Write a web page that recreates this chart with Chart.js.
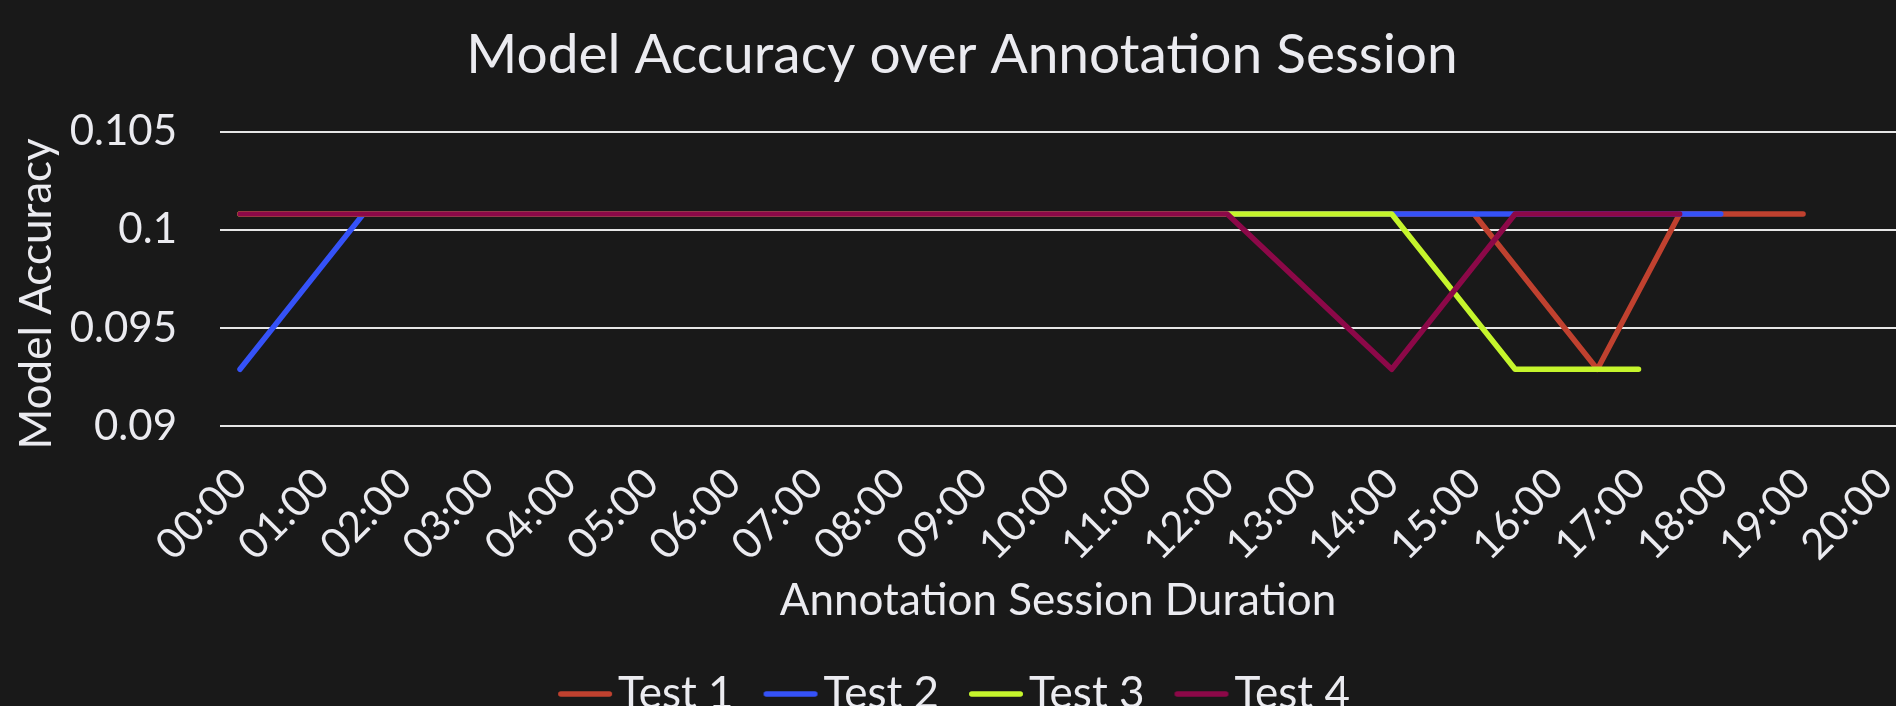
<!DOCTYPE html>
<html><head><meta charset="utf-8">
<script src="https://cdn.jsdelivr.net/npm/chart.js@4.4.0/dist/chart.umd.min.js"></script>
<style>
html,body{margin:0;padding:0;background:#191919;overflow:hidden;width:1896px;height:706px}
#wrap{position:relative;width:1896px;height:726px}
</style></head><body><div id="wrap"><canvas id="c" width="1896" height="726"></canvas></div>
<script>
// ---- data ----
const seriesNames = ['Test 1', 'Test 2', 'Test 3', 'Test 4'];
const seriesColors = ['#c0412f', '#3552f8', '#c5f52c', '#8c0848'];
// times in hours since session start
const test1Times  = [0, 15, 16.5, 17.5, 19];
const test1Values = [0.1008, 0.1008, 0.0929, 0.1008, 0.1008];
const test2Times  = [0, 1.5, 18];
const test2Values = [0.0929, 0.1008, 0.1008];
const test3Times  = [0, 14, 15.5, 17];
const test3Values = [0.1008, 0.1008, 0.0929, 0.0929];
const test4Times  = [0, 12, 14, 15.5, 17.5];
const test4Values = [0.1008, 0.1008, 0.0929, 0.1008, 0.1008];
const hourLabels = ['00:00','01:00','02:00','03:00','04:00','05:00','06:00','07:00','08:00','09:00','10:00',
                    '11:00','12:00','13:00','14:00','15:00','16:00','17:00','18:00','19:00','20:00'];
const yTickValues = [0.09, 0.095, 0.1, 0.105];
const yTickLabels = ['0.09', '0.095', '0.1', '0.105'];
const chartTitle = 'Model Accuracy over Annotation Session';
const xAxisTitle = 'Annotation Session Duration';
const yAxisTitle = 'Model Accuracy';

const allTimes = [test1Times, test2Times, test3Times, test4Times];
const allValues = [test1Values, test2Values, test3Values, test4Values];

const TEXT = '#ebebf0';
const FONT = 'Lato, "Open Sans", sans-serif';
const LINE_W = 5.5;
Chart.defaults.font.family = FONT;
Chart.defaults.color = TEXT;

function legendStroke(color) {
  const c = document.createElement('canvas');
  c.width = 60; c.height = 10;
  const g = c.getContext('2d');
  g.strokeStyle = color; g.lineWidth = LINE_W; g.lineCap = 'round';
  g.beginPath(); g.moveTo(5.75, 5); g.lineTo(54.25, 5); g.stroke();
  return c;
}
const legendMarks = seriesColors.map(legendStroke);

const datasets = seriesNames.map((name, i) => ({
  label: name,
  data: allTimes[i].map((t, j) => ({x: t, y: allValues[i][j]})),
  borderColor: seriesColors[i],
  backgroundColor: seriesColors[i],
  pointBorderColor: seriesColors[i],
  pointBackgroundColor: seriesColors[i],
  borderWidth: LINE_W,
  borderCapStyle: 'round',
  borderJoinStyle: 'round',
  pointRadius: 0,
  pointHoverRadius: 0,
  tension: 0,
  fill: false,
  order: seriesNames.length - i
}));

const yTitlePlugin = {
  id: 'yTitle',
  afterDraw(chart) {
    const {ctx, chartArea} = chart;
    ctx.save();
    ctx.font = '44px ' + FONT;
    ctx.fillStyle = TEXT;
    ctx.textAlign = 'center';
    ctx.textBaseline = 'middle';
    ctx.translate(37, (chartArea.top + chartArea.bottom) / 2 + 15);
    ctx.rotate(-Math.PI / 2);
    ctx.fillText(yAxisTitle, 0, 0);
    ctx.restore();
  }
};

new Chart(document.getElementById('c'), {
  type: 'line',
  data: { datasets },
  plugins: [yTitlePlugin],
  options: {
    responsive: false,
    animation: false,
    devicePixelRatio: 1,
    layout: { padding: { left: 28, right: 0, top: 0, bottom: 0 } },
    plugins: {
      title: {
        display: true,
        text: chartTitle,
        color: TEXT,
        font: { size: 55, weight: '400', family: FONT },
        padding: { top: 22, bottom: 43.5 }
      },
      legend: {
        display: true,
        position: 'bottom',
        labels: {
          color: TEXT,
          font: { size: 44, family: FONT },
          usePointStyle: true,
          pointStyleWidth: 22,
          padding: 46,
          sort: (a, b) => a.datasetIndex - b.datasetIndex,
          generateLabels: (chart) => Chart.defaults.plugins.legend.labels.generateLabels(chart).map(l => ({
            ...l,
            pointStyle: legendMarks[l.datasetIndex],
            strokeStyle: seriesColors[l.datasetIndex],
            fillStyle: seriesColors[l.datasetIndex],
            lineWidth: LINE_W
          }))
        }
      },
      tooltip: { enabled: false }
    },
    scales: {
      x: {
        type: 'linear',
        min: -0.243,
        max: 20.13,
        border: { display: false },
        grid: { display: false, drawTicks: false },
        ticks: {
          stepSize: 1,
          includeBounds: false,
          autoSkip: false,
          maxRotation: 45,
          minRotation: 45,
          padding: 32,
          color: TEXT,
          font: { size: 42, family: FONT },
          callback: (v) => Number.isInteger(v) && hourLabels[v] !== undefined ? hourLabels[v] : ''
        },
        title: {
          display: true,
          text: xAxisTitle,
          color: TEXT,
          font: { size: 44, family: FONT },
          padding: { top: 0, bottom: -1 }
        },
        afterFit: (s) => { s.height = 623 - 423.3; s.paddingLeft = 0; s.paddingRight = 0; }
      },
      y: {
        min: 0.09,
        max: 0.105,
        border: { display: false },
        grid: { color: '#e6e6e6', lineWidth: 2, drawTicks: false },
        afterBuildTicks: (s) => { s.ticks = yTickValues.map(v => ({value: v})); },
        ticks: {
          padding: 43,
          color: TEXT,
          font: { size: 42, family: FONT },
          callback: (v) => { const k = yTickValues.findIndex(t => Math.abs(t - v) < 1e-9); return k >= 0 ? yTickLabels[k] : ''; }
        },
        title: { display: false },
        afterFit: (s) => { s.width = 192; }
      }
    }
  }
});
</script></body></html>
